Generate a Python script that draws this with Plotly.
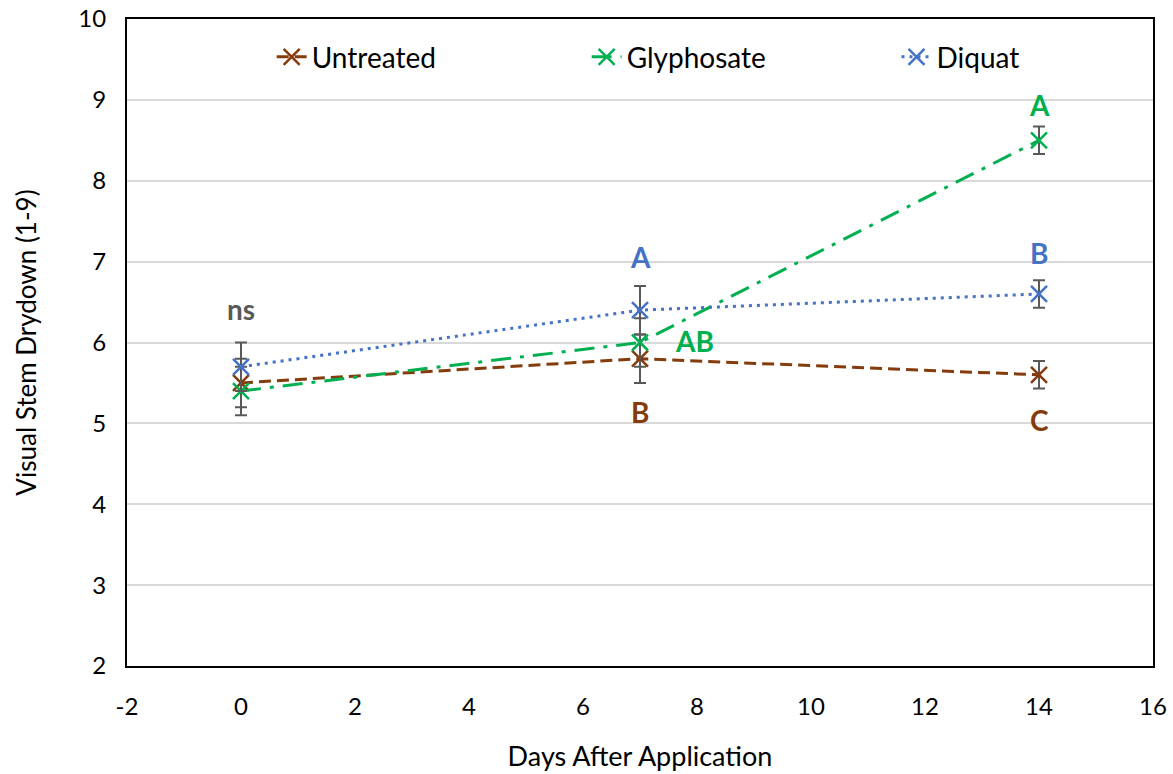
import plotly.graph_objects as go

days = [0, 7, 14]
series_names = ["Untreated", "Glyphosate", "Diquat"]
untreated = [5.5, 5.8, 5.6]
glyphosate = [5.4, 6.0, 8.5]
diquat = [5.7, 6.4, 6.6]
untreated_err = [0.3, 0.3, 0.17]
glyphosate_err = [0.3, 0.3, 0.17]
diquat_err = [0.3, 0.3, 0.17]

x_tick_vals = [-2, 0, 2, 4, 6, 8, 10, 12, 14, 16]
x_tick_text = ["-2", "0", "2", "4", "6", "8", "10", "12", "14", "16"]

# significance letters
letter_text = ["ns", "A", "AB", "B", "A", "B", "C"]
letter_x = [0, 7, 7.95, 7, 14, 14, 14]
letter_y = [6.42, 7.06, 6.02, 5.14, 8.94, 7.11, 5.04]
letter_series = ["ns", "Diquat", "Glyphosate", "Untreated", "Glyphosate", "Diquat", "Untreated"]

colors = {"Untreated": "#843C0C", "Glyphosate": "#00B050", "Diquat": "#4472C4", "ns": "#595959"}
dashes = {"Untreated": "12px,6px", "Glyphosate": "20px,9px,4px,9px", "Diquat": "3px,5px"}
values = {"Untreated": untreated, "Glyphosate": glyphosate, "Diquat": diquat}
errors = {"Untreated": untreated_err, "Glyphosate": glyphosate_err, "Diquat": diquat_err}
legend_ids = {"Untreated": "legend", "Glyphosate": "legend2", "Diquat": "legend3"}
legend_x = {"Untreated": 0.141, "Glyphosate": 0.448, "Diquat": 0.750}

FONT = "Lato"
fig = go.Figure()
for name in series_names:
    c = colors[name]
    fig.add_trace(go.Scatter(
        x=days, y=values[name], name=name, mode="lines+markers",
        line=dict(color=c, width=3, dash=dashes[name]),
        marker=dict(symbol="x-thin", size=16, line=dict(color=c, width=2.5), color=c),
        error_y=dict(type="data", array=errors[name], visible=True,
                     color="#595959", thickness=2, width=6),
        legend=legend_ids[name],
    ))

for t, x, y, s in zip(letter_text, letter_x, letter_y, letter_series):
    fig.add_annotation(x=x, y=y, text="<b>%s</b>" % t, showarrow=False,
                       font=dict(family=FONT, size=28, color=colors[s]))

leg_common = dict(orientation="h", xanchor="left", y=0.941, yanchor="middle",
                  font=dict(family=FONT, size=28, color="black"),
                  bgcolor="rgba(0,0,0,0)")
legends = {}
for name in series_names:
    key = legend_ids[name]
    legends[key] = dict(x=legend_x[name], **leg_common)

fig.update_layout(
    width=1173, height=774,
    margin=dict(l=127, r=20, t=19, b=108, autoexpand=False),
    paper_bgcolor="white", plot_bgcolor="white",
    font=dict(family=FONT, size=24, color="black"),
    showlegend=True,
    **legends,
    xaxis=dict(range=[-2, 16], tickvals=x_tick_vals, ticktext=x_tick_text,
               showgrid=False, zeroline=False, automargin=False,
               showline=True, linecolor="black", linewidth=2, mirror=True,
               ticks="", tickfont=dict(size=24), ticklabelstandoff=18,
               title=dict(text="Days After Application", font=dict(size=27), standoff=28)),
    yaxis=dict(range=[2, 10], dtick=1, showgrid=True, gridcolor="#D9D9D9", gridwidth=1.5,
               zeroline=False, automargin=False, showline=True, linecolor="black",
               linewidth=2, mirror=True, ticks="", tickfont=dict(size=24),
               ticklabelstandoff=14,
               title=dict(text="Visual Stem Drydown (1-9)", font=dict(size=26), standoff=34)),
)

fig.write_html("out.html", config={"displayModeBar": False},
               post_script="document.body.style.margin='0';")
